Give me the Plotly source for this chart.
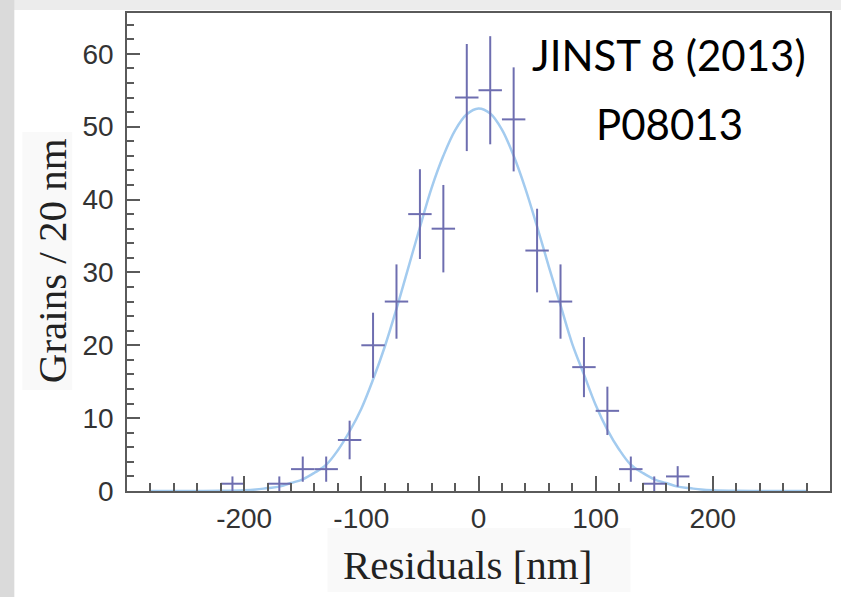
import plotly.graph_objects as go

# ---- data ----
bin_centers = [-210, -170, -150, -130, -110, -90, -70, -50, -30, -10,
               10, 30, 50, 70, 90, 110, 130, 150, 170]
counts = [1, 1, 3, 3, 7, 20, 26, 38, 36, 54,
          55, 51, 33, 26, 17, 11, 3, 1, 2]
count_err = [1.0, 1.0, 1.73, 1.73, 2.65, 4.47, 5.10, 6.16, 6.0, 7.35,
             7.42, 7.14, 5.74, 5.10, 4.12, 3.32, 1.73, 1.0, 1.41]
bin_half_width = 10

fit_x = [-280, -260, -240, -220, -200, -190, -180, -170, -160, -150, -140,
         -130, -120, -110, -100, -90, -80, -70, -60, -50, -40, -30, -20,
         -10, 0, 10, 20, 30, 40, 50, 60, 70, 80, 90, 100, 110, 120, 130,
         140, 150, 160, 170, 180, 190, 200, 220, 240, 260, 280]
fit_y = [0.0, 0.0, 0.01, 0.03, 0.1, 0.2, 0.4, 0.6, 1.1, 1.6, 2.5,
         3.6, 5.6, 8.2, 11.3, 15.3, 19.8, 25.0, 30.6, 36.2, 41.6, 46.0, 49.5,
         51.7, 52.5, 51.8, 49.6, 46.0, 41.5, 36.3, 30.8, 25.5, 20.2, 16.0, 11.8,
         8.4, 5.7, 3.6, 2.5, 1.6, 1.1, 0.6, 0.4, 0.2, 0.1, 0.03, 0.01, 0.0, 0.0]

x_tick_vals = [-200, -100, 0, 100, 200]
x_tick_text = ["-200", "-100", "0", "100", "200"]
y_tick_vals = [0, 10, 20, 30, 40, 50, 60]
y_tick_text = ["0", "10", "20", "30", "40", "50", "60"]

# ---- geometry (pixels) ----
W, H = 841, 597
ML, MR, MT, MB = 127, 9, 13, 106
PW, PH = W - ML - MR, H - MT - MB


def px(xp):
    return (xp - ML) / PW


def py(yp):
    return (H - MB - yp) / PH


fig = go.Figure()

fig.add_trace(go.Scatter(
    x=fit_x, y=fit_y, mode="lines", line=dict(color="#a3cbef", width=2.5, shape="spline"),
    hoverinfo="skip", showlegend=False))

fig.add_trace(go.Scatter(
    x=bin_centers, y=counts, mode="markers",
    marker=dict(size=1, color="rgba(0,0,0,0)"),
    error_y=dict(type="data", array=count_err, visible=True, width=0,
                 thickness=2, color="#6e6eb0"),
    error_x=dict(type="constant", value=bin_half_width, visible=True, width=0,
                 thickness=2, color="#6e6eb0"),
    showlegend=False))

axis_common = dict(showline=True, linecolor="#5a5a5a", linewidth=1.5, mirror=True,
                   ticks="inside", tickcolor="#5a5a5a", tickwidth=1.5,
                   showgrid=False, zeroline=False,
                   tickfont=dict(family="Liberation Sans", size=28, color="#333333"))

fig.update_xaxes(range=[-300, 300], tickmode="array", tickvals=x_tick_vals,
                 ticktext=x_tick_text, ticklen=15, ticklabelstandoff=2,
                 minor=dict(tickmode="linear", tick0=0, dtick=20, ticklen=8,
                            ticks="inside", tickcolor="#5a5a5a", tickwidth=1.5),
                 **axis_common)
fig.update_yaxes(range=[0, 65.6], tickmode="array", tickvals=y_tick_vals,
                 ticktext=y_tick_text, ticklen=13, ticklabelstandoff=6,
                 minor=dict(tickmode="linear", tick0=0, dtick=2, ticklen=7,
                            ticks="inside", tickcolor="#5a5a5a", tickwidth=1.5),
                 **axis_common)

shapes = [
    # light top strip and white panel on gray page
    dict(type="rect", xref="paper", yref="paper", x0=px(14), x1=px(W + 5),
         y0=py(0 - 5), y1=py(10), fillcolor="#ececec", line_width=0, layer="below"),
    dict(type="rect", xref="paper", yref="paper", x0=px(14), x1=px(W + 5),
         y0=py(H + 5), y1=py(10), fillcolor="#ffffff", line_width=0, layer="below"),
    # faint boxes behind the axis titles
    dict(type="rect", xref="paper", yref="paper", x0=px(328), x1=px(632),
         y0=py(592), y1=py(528), fillcolor="#f9f9f9", line_width=0, layer="below"),
    dict(type="rect", xref="paper", yref="paper", x0=px(22), x1=px(72),
         y0=py(390), y1=py(132), fillcolor="#f9f9f9", line_width=0, layer="below"),
]

annotations = [
    dict(text="Residuals [nm]", xref="paper", yref="paper", x=px(468), y=py(565),
         xanchor="center", yanchor="middle", showarrow=False,
         font=dict(family="Liberation Serif", size=41, color="#222222")),
    dict(text="Grains / 20 nm", xref="paper", yref="paper", x=px(52), y=py(261),
         xanchor="center", yanchor="middle", showarrow=False, textangle=-90,
         font=dict(family="Liberation Serif", size=41, color="#222222")),
    dict(text="JINST 8 (2013)", xref="paper", yref="paper", x=px(671), y=py(55),
         xanchor="center", yanchor="middle", showarrow=False,
         font=dict(family="Lato", size=42, color="#000000")),
    dict(text="P08013", xref="paper", yref="paper", x=px(671), y=py(124),
         xanchor="center", yanchor="middle", showarrow=False,
         font=dict(family="Lato", size=42, color="#000000")),
]

fig.update_layout(width=W, height=H, margin=dict(l=ML, r=MR, t=MT, b=MB),
                  paper_bgcolor="#dadada", plot_bgcolor="#ffffff",
                  shapes=shapes, annotations=annotations, showlegend=False)

fig.write_html("out.html", include_plotlyjs=True, full_html=True,
               config={"displayModeBar": False})
